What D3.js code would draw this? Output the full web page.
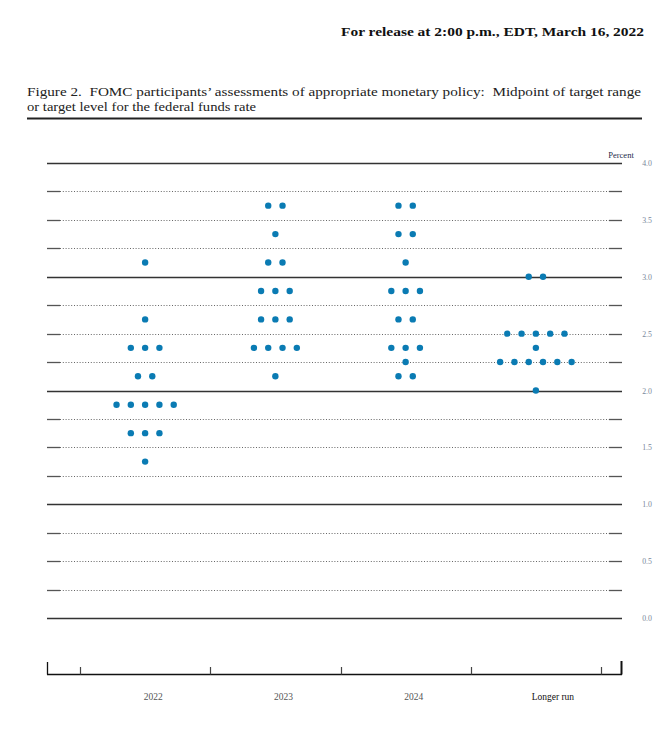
<!DOCTYPE html>
<html>
<head>
<meta charset="utf-8">
<script src="https://cdn.jsdelivr.net/npm/d3@7"></script>
<style>
  html, body { margin: 0; padding: 0; background: #fff; }
  svg { display: block; }
  text { white-space: pre; }
</style>
</head>
<body>
<svg id="chart" width="670" height="729"></svg>
<script>
// ---- Data ----
const categories = ["2022", "2023", "2024", "Longer run"];
// dot rows: [midpoint rate, number of participants]
const dots2022 = [[3.125, 1], [2.625, 1], [2.375, 3], [2.125, 2], [1.875, 5], [1.625, 3], [1.375, 1]];
const dots2023 = [[3.625, 2], [3.375, 1], [3.125, 2], [2.875, 3], [2.625, 3], [2.375, 4], [2.125, 1]];
const dots2024 = [[3.625, 2], [3.375, 2], [3.125, 1], [2.875, 3], [2.625, 2], [2.375, 3], [2.25, 1], [2.125, 2]];
const dotsLonger = [[3.0, 2], [2.5, 5], [2.375, 1], [2.25, 6], [2.0, 1]];
const yTickLabels = ["0.0", "0.5", "1.0", "1.5", "2.0", "2.5", "3.0", "3.5", "4.0"];
const gridValues = d3.range(0, 4.001, 0.25);

const headerText = "For release at 2:00 p.m., EDT, March 16, 2022";
const titleLine1 = "Figure 2.  FOMC participants\u2019 assessments of appropriate monetary policy:  Midpoint of target range";
const titleLine2 = "or target level for the federal funds rate";

// ---- Layout ----
const svg = d3.select("#chart");
const serif = "'Liberation Serif', 'DejaVu Serif', serif";

const y = d3.scaleLinear().domain([0, 4]).range([618, 163]);
const x = d3.scaleBand().domain(categories).range([80, 601]).paddingInner(0).paddingOuter(0);
const dotStep = 14.3;
const dotColor = "#0a7bb3";

// Header
svg.append("text")
  .attr("x", 644).attr("y", 36)
  .attr("text-anchor", "end")
  .attr("font-family", serif).attr("font-weight", "bold").attr("font-size", 13)
  .attr("textLength", 303).attr("lengthAdjust", "spacingAndGlyphs")
  .attr("fill", "#111")
  .text(headerText);

// Title
svg.append("text")
  .attr("x", 27).attr("y", 96)
  .attr("font-family", serif).attr("font-size", 12.2)
  .attr("textLength", 614).attr("lengthAdjust", "spacingAndGlyphs")
  .attr("fill", "#222")
  .text(titleLine1);
svg.append("text")
  .attr("x", 27).attr("y", 111)
  .attr("font-family", serif).attr("font-size", 12.2)
  .attr("textLength", 229).attr("lengthAdjust", "spacingAndGlyphs")
  .attr("fill", "#222")
  .text(titleLine2);
svg.append("line")
  .attr("x1", 27).attr("x2", 642).attr("y1", 118.5).attr("y2", 118.5)
  .attr("stroke", "#222").attr("stroke-width", 2);

// Gridlines
const gridLeft = 47, gridRight = 622, segL = 60, segR = 609;
const g = svg.append("g");
gridValues.forEach(v => {
  const yy = Math.round(y(v)) + 0.5;
  const whole = Math.abs(v - Math.round(v)) < 1e-9;
  if (whole) {
    g.append("line").attr("x1", gridLeft).attr("x2", gridRight)
      .attr("y1", yy).attr("y2", yy)
      .attr("stroke", "#333").attr("stroke-width", 1.6);
  } else {
    g.append("line").attr("x1", segL).attr("x2", segR)
      .attr("y1", yy).attr("y2", yy)
      .attr("stroke", "#666").attr("stroke-width", 1)
      .attr("stroke-dasharray", "1,1.8");
    g.append("line").attr("x1", gridLeft).attr("x2", segL)
      .attr("y1", yy).attr("y2", yy)
      .attr("stroke", "#555").attr("stroke-width", 1.3);
    g.append("line").attr("x1", segR).attr("x2", gridRight)
      .attr("y1", yy).attr("y2", yy)
      .attr("stroke", "#555").attr("stroke-width", 1.3);
  }
});

// Right axis labels
svg.append("g").selectAll("text").data(yTickLabels).join("text")
  .attr("x", 647).attr("y", d => y(+d) + 3)
  .attr("text-anchor", "middle")
  .attr("font-family", serif).attr("font-size", 7.8)
  .attr("fill", "#78869a")
  .text(d => d);
svg.append("text")
  .attr("x", 621).attr("y", 158)
  .attr("text-anchor", "middle")
  .attr("font-family", serif).attr("font-size", 8.5)
  .attr("fill", "#1d2a4a")
  .text("Percent");

// Dots
const series = [dots2022, dots2023, dots2024, dotsLonger];
const dotData = [];
series.forEach((rows, i) => {
  const cat = categories[i];
  const cx = x(cat) + x.bandwidth() / 2;
  rows.forEach(([rate, n]) => {
    for (let k = 0; k < n; k++) {
      dotData.push({ cat, rate, x: cx + (k - (n - 1) / 2) * dotStep });
    }
  });
});
svg.append("g").selectAll("circle").data(dotData).join("circle")
  .attr("cx", d => d.x)
  .attr("cy", d => y(d.rate))
  .attr("r", 3.2)
  .attr("fill", dotColor);

// Bottom axis
const axisY = 674.5;
const ax = svg.append("g");
ax.append("line").attr("x1", 47).attr("x2", 622).attr("y1", axisY).attr("y2", axisY)
  .attr("stroke", "#111").attr("stroke-width", 1.5);
ax.append("line").attr("x1", 47.5).attr("x2", 47.5).attr("y1", 662).attr("y2", axisY)
  .attr("stroke", "#111").attr("stroke-width", 1.3);
ax.append("line").attr("x1", 621.5).attr("x2", 621.5).attr("y1", 661).attr("y2", axisY)
  .attr("stroke", "#111").attr("stroke-width", 2);
const tickPos = categories.map(c => x(c)).concat([x.range()[1]]);
ax.selectAll("line.tk").data(tickPos).join("line").attr("class", "tk")
  .attr("x1", d => Math.round(d) + 0.5).attr("x2", d => Math.round(d) + 0.5)
  .attr("y1", 667).attr("y2", axisY)
  .attr("stroke", "#444").attr("stroke-width", 1.2);
ax.selectAll("text").data(categories).join("text")
  .attr("x", d => x(d) + x.bandwidth() / 2 + (d === "Longer run" ? 17 : 8))
  .attr("y", 700)
  .attr("text-anchor", "middle")
  .attr("font-family", serif).attr("font-size", 9.5)
  .attr("fill", d => d === "Longer run" ? "#111" : "#555")
  .text(d => d);
</script>
</body>
</html>
